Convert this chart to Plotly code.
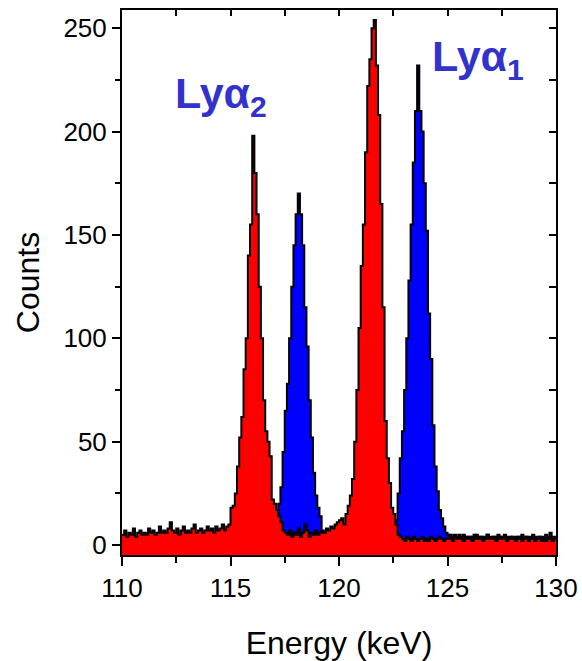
import numpy as np
import plotly.graph_objects as go

# Histogram bins: 0.1 keV wide, starting at 110.0 keV (200 bins)
bin_start = 110.0
bin_width = 0.1

# Red spectrum (front) counts per bin
red_counts = [
    5, 7, 4, 6, 5, 8, 4, 6, 7, 5,
    6, 5, 8, 6, 7, 5, 6, 9, 6, 7,
    6, 8, 11, 7, 6, 8, 5, 7, 9, 6,
    7, 6, 8, 10, 6, 7, 8, 6, 7, 9,
    7, 8, 6, 9, 7, 8, 10, 7, 9, 10,
    18, 19, 25, 38, 52, 62, 85, 100, 140, 155,
    198, 180, 160, 125, 100, 70, 55, 50, 43, 22,
    20, 17, 14, 11, 7, 6, 5, 7, 4, 6,
    5, 8, 4, 6, 10, 7, 4, 6, 5, 7,
    5, 6, 7, 6, 8, 7, 9, 8, 10, 11,
    12, 13, 10, 15, 19, 24, 32, 50, 75, 105,
    135, 155, 190, 222, 235, 250, 254, 232, 208, 165,
    115, 60, 42, 30, 18, 15, 10, 5, 4, 3,
    2, 4, 3, 2, 4, 3, 2, 3, 4, 2,
    3, 2, 4, 3, 2, 3, 4, 3, 2, 3,
    3, 5, 2, 4, 3, 5, 3, 2, 4, 3,
    4, 2, 3, 5, 3, 4, 2, 3, 5, 3,
    3, 4, 2, 3, 4, 3, 5, 2, 3, 4,
    3, 2, 4, 3, 2, 3, 4, 2, 3, 5,
    2, 3, 4, 2, 3, 2, 3, 6, 2, 3,
]

# Blue spectrum (behind) counts per bin
blue_counts = [
    3, 2, 4, 3, 2, 3, 4, 2, 3, 3,
    2, 3, 4, 2, 3, 3, 2, 4, 3, 2,
    3, 4, 2, 3, 3, 2, 4, 3, 2, 3,
    3, 2, 4, 3, 2, 3, 3, 4, 2, 3,
    2, 3, 3, 4, 2, 3, 2, 4, 3, 3,
    3, 3, 4, 3, 2, 3, 4, 3, 3, 4,
    3, 4, 3, 3, 4, 3, 4, 4, 5, 7,
    10, 15, 20, 28, 45, 65, 78, 100, 125, 145,
    160, 170, 160, 145, 115, 96, 70, 52, 35, 24,
    18, 14, 6, 5, 4, 3, 4, 2, 3, 4,
    3, 2, 3, 4, 2, 3, 3, 2, 4, 3,
    3, 3, 2, 4, 3, 3, 2, 3, 3, 4,
    3, 4, 4, 5, 6, 8, 12, 25, 42, 55,
    75, 100, 128, 155, 185, 210, 232, 210, 200, 175,
    152, 112, 90, 58, 38, 26, 17, 13, 9, 6,
    5, 4, 3, 5, 4, 3, 4, 5, 3, 4,
    3, 4, 5, 3, 4, 3, 4, 3, 5, 4,
    4, 3, 4, 5, 3, 4, 3, 4, 3, 4,
    3, 4, 3, 4, 5, 3, 4, 3, 4, 3,
    4, 3, 4, 3, 4, 5, 3, 4, 3, 4,
]

x_range = [110, 130]
y_range = [-4.8, 258.8]
x_ticks = [110, 115, 120, 125, 130]
y_ticks = [0, 50, 100, 150, 200, 250]

n = len(red_counts)
edges = np.round(bin_start + bin_width * np.arange(n + 1), 2)


def step_y(vals):
    return list(vals) + [vals[-1]]


fig = go.Figure()

for counts, color in [(blue_counts, "#0000FF"), (red_counts, "#FF0000")]:
    fig.add_trace(go.Scatter(
        x=[edges[0], edges[-1]], y=[y_range[0], y_range[0]],
        mode="lines", line=dict(width=0), hoverinfo="skip", showlegend=False))
    fig.add_trace(go.Scatter(
        x=edges, y=step_y(counts), mode="lines", line_shape="hv",
        line=dict(color="black", width=2), fill="tonexty", fillcolor=color,
        showlegend=False))

# invisible trace for mirror axes
fig.add_trace(go.Scatter(x=x_range, y=[y_range[0]] * 2, xaxis="x2", yaxis="y2",
                         mode="lines", line=dict(width=0), hoverinfo="skip",
                         showlegend=False))

font_family = "Liberation Sans, Arial, sans-serif"
label_color = "#3333CC"

fig.update_layout(
    width=582, height=661,
    margin=dict(l=122, r=26, t=10, b=106),
    paper_bgcolor="white", plot_bgcolor="white",
    font=dict(family=font_family, color="black"),
    xaxis=dict(
        range=x_range, tickvals=x_ticks, ticks="outside", ticklen=9, tickwidth=2,
        tickcolor="black", showline=True, linewidth=2, linecolor="black",
        mirror=True, showgrid=False, zeroline=False, automargin=False,
        tickfont=dict(size=26),
        minor=dict(tickvals=[112.5, 117.5, 122.5, 127.5], ticks="outside",
                   ticklen=6, tickwidth=2, tickcolor="black", showgrid=False),
        title=dict(text="Energy (keV)", font=dict(size=32), standoff=30),
    ),
    yaxis=dict(
        range=y_range, tickvals=y_ticks, ticks="outside", ticklen=8, tickwidth=2,
        tickcolor="black", showline=True, linewidth=2, linecolor="black",
        mirror=True, showgrid=False, zeroline=False, automargin=False,
        tickfont=dict(size=26),
        minor=dict(tickvals=[25, 75, 125, 175, 225], ticks="outside",
                   ticklen=5, tickwidth=2, tickcolor="black", showgrid=False),
        title=dict(text="Counts", font=dict(size=32), standoff=14),
    ),
    xaxis2=dict(
        range=x_range, overlaying="x", side="top", anchor="y", automargin=False,
        tickvals=[112.5, 115, 117.5, 120, 122.5, 125, 127.5], ticks="inside",
        ticklen=6, tickwidth=2, tickcolor="black", showticklabels=False,
        showgrid=False, zeroline=False, showline=False,
    ),
    yaxis2=dict(
        range=y_range, overlaying="y", side="right", anchor="x", automargin=False,
        tickvals=[25, 50, 75, 100, 125, 150, 175, 200, 225, 250], ticks="inside",
        ticklen=7, tickwidth=2, tickcolor="black", showticklabels=False,
        showgrid=False, zeroline=False, showline=False,
    ),
    annotations=[
        dict(text="<b>Lyα<sub>2</sub></b>", x=112.35, y=217, xref="x", yref="y",
             xanchor="left", yanchor="middle", showarrow=False,
             font=dict(size=43, color=label_color, family=font_family)),
        dict(text="<b>Lyα<sub>1</sub></b>", x=124.2, y=235, xref="x", yref="y",
             xanchor="left", yanchor="middle", showarrow=False,
             font=dict(size=43, color=label_color, family=font_family)),
    ],
)

fig.write_html("out.html")
